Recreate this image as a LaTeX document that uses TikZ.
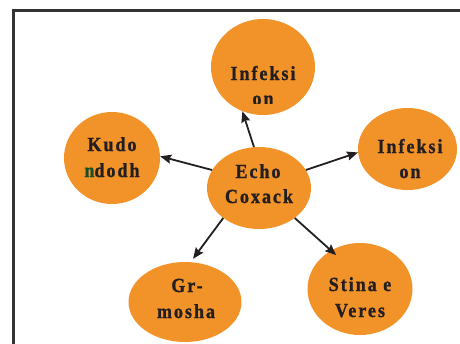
\documentclass[tikz,border=0pt]{standalone}
\usepackage{fontspec}
\setmainfont{Liberation Serif}
\newfontfamily\lblfont{Liberation Serif}[UprightFont=* Bold,FakeStretch=0.9,LetterSpace=10,FakeBold=1.2]
\usetikzlibrary{shapes.geometric,arrows.meta}
\definecolor{orangec}{RGB}{242,147,42}
\definecolor{txt}{RGB}{35,31,32}
\definecolor{greenn}{RGB}{24,78,40}
\definecolor{framec}{RGB}{51,51,51}
\begin{document}
\begin{tikzpicture}[x=1pt,y=-1pt,
  bub/.style={ellipse,fill=orangec,draw=none,inner sep=0pt},
  lbl/.style={anchor=base,inner sep=0pt,text=txt,font=\lblfont\fontsize{20}{24}\selectfont},
  arr/.style={draw=txt,line width=1.8pt,-{Stealth[length=11pt,width=9pt,inset=1.5pt]}}]
\useasboundingbox (0,0) rectangle (460,343);
\draw[line width=3pt,draw=framec] (13.5,360) -- (13.5,10) -- (480,10);
% bubbles
\node[bub,minimum width=104pt,minimum height=96pt] (top) at (263,67) {};
\node[bub,minimum width=96pt,minimum height=92pt] (kudo) at (112,158) {};
\node[bub,minimum width=99pt,minimum height=82pt] (right) at (407.5,149) {};
\node[bub,minimum width=104pt,minimum height=82pt] (echo) at (259,188) {};
\node[bub,minimum width=113pt,minimum height=80pt] (gr) at (185,302) {};
\node[bub,minimum width=105pt,minimum height=92pt] (stina) at (360,289) {};
% labels
\node[lbl] (topa) at (263,80) {Infeksi};
\begin{scope}
\clip (200,88) rectangle (330,103);
\node[lbl] (topb) at (263,105) {on};
\end{scope}
\node[lbl] (kudoa) at (112,151) {Kudo};
\node[lbl] (kudob) at (112,177) {\textcolor{greenn}{n}dodh};
\node[lbl] (righta) at (410,153) {Infeksi};
\node[lbl] (rightb) at (410,178) {on};
\node[lbl] (echoa) at (258,178) {Echo};
\node[lbl] (echob) at (259,203) {Coxack};
\node[lbl] (gra) at (187,292) {Gr-};
\node[lbl] (grb) at (186,318) {mosha};
\node[lbl] (stinaa) at (360,291) {Stina e};
\node[lbl] (stinab) at (360,317) {Veres};
% arrows
\draw[arr] (echo.97) -- (top.245);
\draw[arr] (echo.159) -- (kudo.2);
\draw[arr] (echo.21) -- (right.184);
\draw[arr,shorten >=4pt] (echo.220) -- (gr.82);
\draw[arr,shorten >=-7pt] (echo.320) -- (stina.127);
\end{tikzpicture}
\end{document}
